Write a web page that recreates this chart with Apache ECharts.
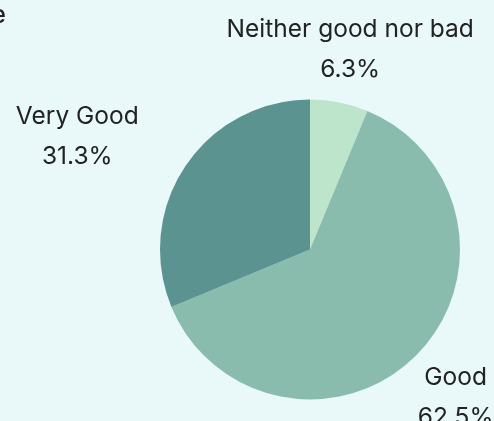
<!DOCTYPE html>
<html>
<head>
<meta charset="utf-8">
<script src="https://cdn.jsdelivr.net/npm/echarts@6/dist/echarts.min.js"></script>
<style>
  html, body { margin: 0; padding: 0; background: #e9f8f8; }
  #chart { width: 494px; height: 421px; }
</style>
</head>
<body>
<div id="chart"></div>
<script>
// Survey answers: number of respondents per rating
const categories = ['Neither good nor bad', 'Good', 'Very Good'];
const counts = [1, 10, 5];
const sliceColors = ['#bde5cb', '#89bcad', '#5b9391'];
const titleText = 'How would you rate the service';

const total = counts.reduce((a, b) => a + b, 0);

const chart = echarts.init(document.getElementById('chart'), null, { renderer: 'canvas' });

chart.setOption({
  backgroundColor: '#e9f8f8',
  animation: false,
  title: {
    text: titleText,
    left: 6,
    top: 3,
    padding: 0,
    textAlign: 'right',
    textStyle: {
      fontFamily: 'Inter',
      fontSize: 24.5,
      fontWeight: 500,
      color: '#222222'
    }
  },
  series: [{
    type: 'pie',
    center: [310, 249.5],
    radius: [0, 150],
    startAngle: 90,
    clockwise: true,
    avoidLabelOverlap: false,
    data: categories.map((name, i) => ({
      name: name,
      value: counts[i],
      itemStyle: { color: sliceColors[i] }
    })),
    itemStyle: { borderWidth: 0 },
    label: {
      show: true,
      position: 'outside',
      distanceToLabelLine: 0,
      fontFamily: 'Inter',
      fontSize: 24.5,
      lineHeight: 40,
      color: '#222222',
      formatter: p => p.name + '\n' + (p.value / total * 100).toFixed(1) + '%'
    },
    labelLine: { show: false, length: 56, length2: 0 },
    labelLayout: function (params) {
      // center each label's lines; labels on the left keep their right edge at the anchor
      if (params.align === 'right') {
        return { align: 'center', dx: -params.labelRect.width / 2, dy: 2 };
      }
      return { align: 'center', dy: 2 };
    },
    emphasis: { disabled: true }
  }]
});
</script>
</body>
</html>
